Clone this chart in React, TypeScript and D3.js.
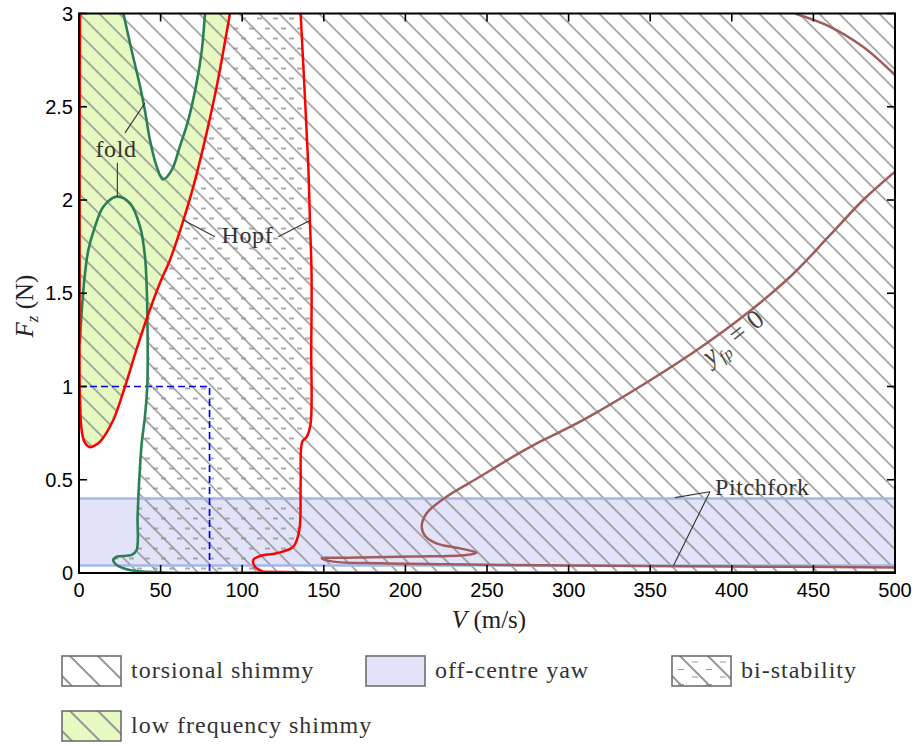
import React from 'react';
import * as d3 from 'd3';

type P = [number, number];

// ---- axis ticks ----
const xTicks = [0, 50, 100, 150, 200, 250, 300, 350, 400, 450, 500];
const yTicks = [0, 0.5, 1, 1.5, 2, 2.5, 3];
const yTickLabels = ['0', '0.5', '1', '1.5', '2', '2.5', '3'];

// ---- curves (V m/s, Fz N) ----
const hopfLeft: P[] = [
  [0.6, 3.0], [0.4, 2.4], [0.3, 1.8], [0.3, 1.3], [0.35, 1.05], [0.6, 0.93], [1.6, 0.767],
  [3.5, 0.7], [6.7, 0.674], [9.5, 0.683], [12.9, 0.704], [21, 0.82], [28.2, 1.0],
  [35.3, 1.2], [41.9, 1.374], [49.6, 1.555], [55.8, 1.68], [63.9, 1.89], [70, 2.07],
  [78.2, 2.36], [84.4, 2.61], [92.5, 3.0],
];
const hopfRightUpper: P[] = [
  [135.8, 3.0], [138.5, 2.54], [140.5, 2.18], [141.5, 1.89], [142.5, 1.6], [142.3, 1.2],
  [141.9, 0.8], [139.5, 0.73], [136.8, 0.704], [135.8, 0.48], [135.0, 0.23], [131.3, 0.141],
  [121.1, 0.106], [110.9, 0.091], [106.8, 0.07], [107.8, 0.034], [112.9, 0.007],
];
const hopfRightTail: P[] = [[112.9, 0.007], [147.7, 0.003], [300, 0.003], [500, 0.004]];

const fold1Axis: P[] = [[0.3, 3.0], [0.3, 1.24]];
const fold1: P[] = [
  [0.5, 1.23], [1.8, 1.42], [3.6, 1.6], [5.7, 1.73], [9.8, 1.857], [14.9, 1.964],
  [23.1, 2.018], [31.3, 1.982], [37.4, 1.857], [40.4, 1.7], [41.6, 1.5], [41.9, 1.374],
  [41.9, 1.017], [40.4, 0.838], [38.4, 0.695], [36.8, 0.481], [35.9, 0.302], [35.3, 0.123],
  [32.3, 0.097], [23.1, 0.087], [21, 0.07], [23.1, 0.043], [31.3, 0.016], [49.6, 0.004],
  [111, 0.003],
];
const fold2: P[] = [
  [27.2, 3.0], [32.3, 2.8], [37.4, 2.61], [40.4, 2.48], [43.5, 2.32], [47.6, 2.18],
  [51.5, 2.11], [56.8, 2.16], [61.9, 2.29], [67, 2.43], [72.1, 2.63], [75.2, 2.8], [77.2, 3.0],
];
const yfpMain: P[] = [
  [500, 0.03], [400, 0.035], [300, 0.04], [225.3, 0.047], [184.4, 0.052], [155.8, 0.061],
  [148.7, 0.079], [164, 0.082], [204.8, 0.088], [237.5, 0.097], [243.6, 0.109],
  [233.5, 0.132], [219, 0.159], [212, 0.2], [210, 0.248], [213, 0.32], [224.3, 0.404],
  [245.7, 0.516], [266, 0.624], [282.5, 0.704], [311, 0.83], [384.6, 1.232], [433.6, 1.571],
  [460, 1.81], [480.5, 2.0], [500, 2.152],
];
const yfpArc: P[] = [[438.7, 3.0], [460, 2.93], [480.6, 2.82], [500, 2.67]];

const pitchforkLevels = [0.04, 0.4];
const dashedCorner: P = [80, 1];

// annotations: label anchor and leader lines (data coords)
const foldLabel: P = [22.7, 2.23];
const foldLeaders: [P, P][] = [[[28.2, 2.36], [40.4, 2.52]], [[23.5, 2.2], [23.5, 2.018]]];
const hopfLabel: P = [103.2, 1.77];
const hopfLeaders: [P, P][] = [[[83.3, 1.803], [63.9, 1.893]], [[122.1, 1.803], [141.5, 1.89]]];
const pitchLabel: P = [389.7, 0.418];
const pitchLeaders: [P, P][] = [[[386.6, 0.436], [365.2, 0.404]], [[386.6, 0.436], [364.2, 0.039]]];
const yfpLabelPos: P = [404, 1.228];

const legendLabels = ['torsional shimmy', 'off-centre yaw', 'bi-stability', 'low frequency shimmy'];

// ---- styles ----
const RED = '#ff0000';
const GREEN = '#2b7f54';
const BROWN = '#a05c5c';
const LIME = '#e5f9c1';
const LAV = '#e2e2f8';
const PITCH = '#a3b6e8';
const HATCH = '#8c8c8c';
const SERIF = '"Liberation Serif", "Times New Roman", serif';
const SANS = '"Liberation Sans", Arial, sans-serif';

export default function App() {
  const W = 919, H = 746;
  const x = d3.scaleLinear().domain([0, 500]).range([79, 895]);
  const y = d3.scaleLinear().domain([0, 3]).range([573, 13.5]);
  const line = d3.line<P>().x(d => x(d[0])).y(d => y(d[1])).curve(d3.curveCatmullRom.alpha(0.5));
  const straight = d3.line<P>().x(d => x(d[0])).y(d => y(d[1]));

  const X0 = x(0), X1 = x(500), Y0 = y(0), Y3 = y(3);
  const pw = X1 - X0, ph = Y0 - Y3;

  const tongue = line(hopfLeft) + 'Z';
  const uRegion = line(fold2) + 'Z';
  const fold1Region = line(fold1) + `L${x(111)},${Y0 + 5}L${X0 - 5},${Y0 + 5}L${X0 - 5},${y(1.23)}Z`;
  const rightRegion = line(hopfRightUpper) + `L${x(112.9)},${Y0 + 5}L${X0 - 5},${Y0 + 5}L${X0 - 5},${Y3 - 5}Z`;

  const legendBoxes = [
    { x: 62, y: 656, kind: 'tors' },
    { x: 366, y: 656, kind: 'lav' },
    { x: 672, y: 656, kind: 'bi' },
    { x: 62, y: 711, kind: 'lime' },
  ];
  const legendText = [
    { x: 131, y: 678 }, { x: 435, y: 678 }, { x: 741, y: 678 }, { x: 131, y: 733 },
  ];

  return (
    <svg width={W} height={H} style={{ display: 'block', position: 'absolute', left: 0, top: 0, background: '#fff' }}>
      <defs>
        <clipPath id="plotClip"><rect x={X0} y={Y3} width={pw} height={ph} /></clipPath>
        <pattern id="tors" patternUnits="userSpaceOnUse" width={20} height={20} x={X0} y={Y3}>
          <path d="M-5,-5L25,25M-5,15L5,25M15,-5L25,5" stroke={HATCH} strokeWidth={1.4} fill="none" />
        </pattern>
        <pattern id="dash" patternUnits="userSpaceOnUse" width={16} height={20} x={X0} y={Y3}>
          <path d="M2,5h5M10,15h5" stroke="#8f8f8f" strokeWidth={1.3} fill="none" />
        </pattern>
        {legendBoxes.map((b, i) => (
          <pattern key={i} id={`lh${i}`} patternUnits="userSpaceOnUse" width={28} height={28} x={b.x + 8} y={b.y}>
            <path d="M-7,-7L35,35M-7,21L7,35M21,-7L35,7" stroke="#999" strokeWidth={2} fill="none" />
          </pattern>
        ))}
        <pattern id="ldash" patternUnits="userSpaceOnUse" width={28} height={15} x={672} y={656}>
          <path d="M20,6h6M6,21h6M6,13.5h6" stroke="#999" strokeWidth={1.2} fill="none" />
        </pattern>
        <mask id="torsMask" maskUnits="userSpaceOnUse" x={0} y={0} width={W} height={H}>
          <rect x={X0} y={Y3} width={pw} height={ph} fill="white" />
          <path d={fold1Region} fill="black" />
          <path d={tongue} fill="white" />
        </mask>
        <mask id="biMask" maskUnits="userSpaceOnUse" x={0} y={0} width={W} height={H}>
          <path d={rightRegion} fill="white" />
          <path d={fold1Region} fill="black" />
          <path d={tongue} fill="black" />
        </mask>
      </defs>

      <g clipPath="url(#plotClip)">
        <rect x={X0} y={Y3} width={pw} height={ph} fill="#fff" />
        <rect x={X0} y={y(pitchforkLevels[1])} width={pw} height={y(pitchforkLevels[0]) - y(pitchforkLevels[1])} fill={LAV} />
        <path d={tongue + uRegion} fill={LIME} fillRule="evenodd" />
        <rect x={X0} y={Y3} width={pw} height={ph} fill="url(#tors)" mask="url(#torsMask)" />
        <rect x={X0} y={Y3} width={pw} height={ph} fill="url(#dash)" mask="url(#biMask)" />
        {pitchforkLevels.map((v, i) => (
          <line key={i} x1={X0} x2={X1} y1={y(v)} y2={y(v)} stroke={PITCH} strokeWidth={2.5} />
        ))}
        <path d={straight([[0, dashedCorner[1]], dashedCorner, [dashedCorner[0], 0]]) || ''} fill="none" stroke="#0000ff" strokeWidth={1.7} strokeDasharray="7,4" />
        <path d={line(yfpMain) || ''} fill="none" stroke={BROWN} strokeWidth={2.5} />
        <path d={line(yfpArc) || ''} fill="none" stroke={BROWN} strokeWidth={2.5} />
        <path d={straight(fold1Axis) || ''} fill="none" stroke={GREEN} strokeWidth={2.6} />
        <path d={line(fold1) || ''} fill="none" stroke={GREEN} strokeWidth={2.6} />
        <path d={line(fold2) || ''} fill="none" stroke={GREEN} strokeWidth={2.6} />
        <path d={line(hopfLeft) || ''} fill="none" stroke={RED} strokeWidth={2.5} />
        <path d={line(hopfRightUpper) || ''} fill="none" stroke={RED} strokeWidth={2.5} />
        <path d={straight(hopfRightTail) || ''} fill="none" stroke={RED} strokeWidth={2.5} />
      </g>

      <g stroke="#333" strokeWidth={1.1}>
        {[...foldLeaders, ...hopfLeaders, ...pitchLeaders].map((l, i) => (
          <line key={i} x1={x(l[0][0])} y1={y(l[0][1])} x2={x(l[1][0])} y2={y(l[1][1])} />
        ))}
      </g>
      <g fontFamily={SERIF} fontSize={24} fill="#333" letterSpacing={0.6}>
        <text x={x(foldLabel[0])} y={y(foldLabel[1])} textAnchor="middle">fold</text>
        <text x={x(hopfLabel[0])} y={y(hopfLabel[1])} textAnchor="middle">Hopf</text>
        <text x={x(pitchLabel[0])} y={y(pitchLabel[1])}>Pitchfork</text>
        <text transform={`translate(${x(yfpLabelPos[0])},${y(yfpLabelPos[1])}) rotate(-38)`} textAnchor="middle" fill="#444" fontSize={27}>
          <tspan fontStyle="italic">y</tspan>
          <tspan fontStyle="italic" fontSize={16} dy={6}>fp</tspan>
          <tspan dy={-6}> = 0</tspan>
        </text>
      </g>

      <rect x={X0} y={Y3} width={pw} height={ph} fill="none" stroke="#000" strokeWidth={2} />
      <g stroke="#000" strokeWidth={1.6}>
        {xTicks.map(t => (
          <g key={t}>
            <line x1={x(t)} x2={x(t)} y1={Y0} y2={Y0 - 8} />
            <line x1={x(t)} x2={x(t)} y1={Y3} y2={Y3 + 8} />
          </g>
        ))}
        {yTicks.map(t => (
          <g key={t}>
            <line x1={X0} x2={X0 + 8} y1={y(t)} y2={y(t)} />
            <line x1={X1} x2={X1 - 8} y1={y(t)} y2={y(t)} />
          </g>
        ))}
      </g>
      <g fontFamily={SANS} fontSize={20} fill="#000">
        {xTicks.map(t => (
          <text key={t} x={x(t)} y={Y0 + 24} textAnchor="middle">{t}</text>
        ))}
        {yTicks.map((t, i) => (
          <text key={t} x={X0 - 6} y={y(t) + 7} textAnchor="end">{yTickLabels[i]}</text>
        ))}
      </g>
      <g fontFamily={SERIF} fontSize={25} fill="#222">
        <text x={(X0 + X1) / 2 + 2} y={628} textAnchor="middle">
          <tspan fontStyle="italic">V</tspan><tspan>  (m/s)</tspan>
        </text>
        <text transform={`translate(33,306) rotate(-90)`} textAnchor="middle">
          <tspan fontStyle="italic">F</tspan>
          <tspan fontStyle="italic" fontSize={17} dy={5}>z</tspan>
          <tspan dy={-5}>  (N)</tspan>
        </text>
      </g>

      {legendBoxes.map((b, i) => (
        <g key={i}>
          <rect x={b.x} y={b.y} width={59} height={30}
            fill={b.kind === 'lav' ? LAV : b.kind === 'lime' ? LIME : '#fff'} />
          {b.kind !== 'lav' && <rect x={b.x} y={b.y} width={59} height={30} fill={`url(#lh${i})`} />}
          {b.kind === 'bi' && <rect x={b.x} y={b.y} width={59} height={30} fill="url(#ldash)" />}
          <rect x={b.x} y={b.y} width={59} height={30} fill="none" stroke="#666" strokeWidth={1.5} />
        </g>
      ))}
      <g fontFamily={SERIF} fontSize={24} fill="#333" letterSpacing={1}>
        {legendLabels.map((l, i) => (
          <text key={l} x={legendText[i].x} y={legendText[i].y}>{l}</text>
        ))}
      </g>
    </svg>
  );
}
